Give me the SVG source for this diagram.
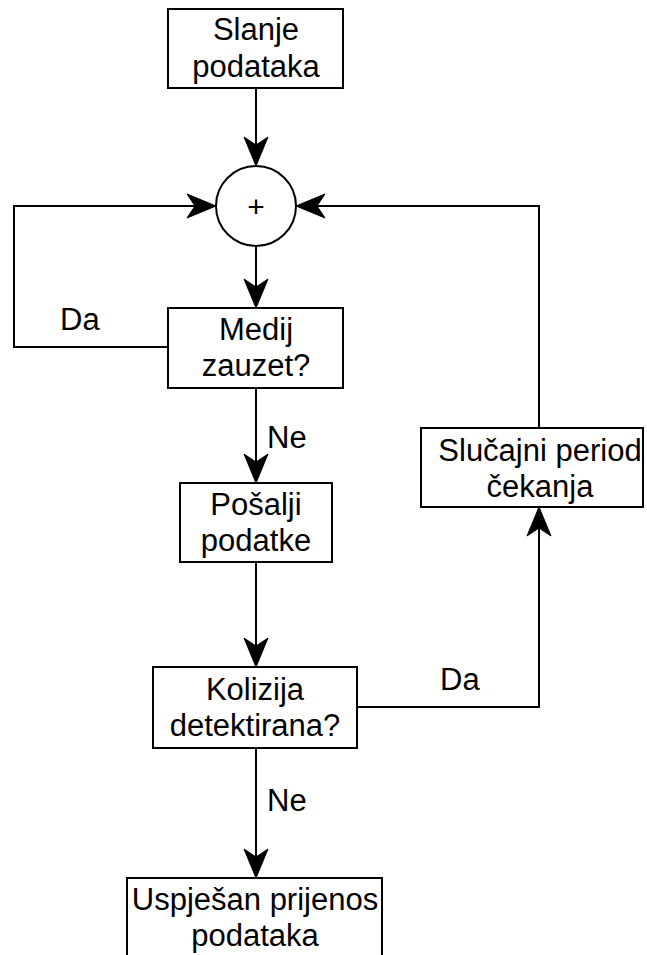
<svg xmlns="http://www.w3.org/2000/svg" width="647" height="955" viewBox="0 0 647 955">
<defs>
<style>
.box{fill:#fff;stroke:#000;stroke-width:2}
.t{font-family:"Liberation Sans",Arial,sans-serif;font-size:31px;fill:#000;text-anchor:middle}
.l{font-family:"Liberation Sans",Arial,sans-serif;font-size:31px;fill:#000}
.c{fill:none;stroke:#000;stroke-width:2;marker-end:url(#arr)}
</style>
<marker id="arr" markerUnits="userSpaceOnUse" markerWidth="32" markerHeight="28" viewBox="-1 -13 32 26" refX="8" refY="0" orient="auto">
<path d="M0,-12 L29,0 L0,12 L8,0 Z" fill="#000" stroke="#000" stroke-width="1" stroke-linejoin="miter"/>
</marker>
</defs>
<rect width="647" height="955" fill="#fff"/>
<g id="connectors">
<path class="c" d="M256,88 V145"/>
<path class="c" d="M256,246 V287"/>
<path class="c" d="M256,388 V462"/>
<path class="c" d="M256,562 V646"/>
<path class="c" d="M256,748 V857"/>
<path class="c" d="M168,347 H14 V206 H195"/>
<path class="c" d="M356,707 H539 V528"/>
<path class="c" d="M539,428 V206 H317"/>
<text class="l" x="60" y="330">Da</text>
<text class="l" x="267" y="448">Ne</text>
<text class="l" x="440" y="690">Da</text>
<text class="l" x="267" y="811">Ne</text>
</g>
<g id="slanje">
<rect class="box" x="168" y="9" width="175" height="79"/>
<text class="t" x="256" y="40">Slanje</text>
<text class="t" x="256" y="77">podataka</text>
</g>
<g id="plus">
<circle cx="256" cy="206" r="40" fill="#fff" stroke="#000" stroke-width="2"/>
<text x="256" y="217" style="font-family:'Liberation Sans',Arial,sans-serif;font-size:30px;text-anchor:middle;fill:#000">+</text>
</g>
<g id="medij">
<rect class="box" x="168" y="308" width="175" height="80"/>
<text class="t" x="256" y="340">Medij</text>
<text class="t" x="256" y="376">zauzet?</text>
</g>
<g id="posalji">
<rect class="box" x="180" y="483" width="152" height="79"/>
<text class="t" x="256" y="515">Pošalji</text>
<text class="t" x="256" y="551">podatke</text>
</g>
<g id="kolizija">
<rect class="box" x="153" y="667" width="204" height="81"/>
<text class="t" x="255" y="700">Kolizija</text>
<text class="t" x="255" y="736">detektirana?</text>
</g>
<g id="slucajni">
<rect class="box" x="421" y="428" width="222" height="79"/>
<text class="t" x="540" y="461">Slučajni period</text>
<text class="t" x="540" y="497">čekanja</text>
</g>
<g id="uspjesan">
<rect class="box" x="127" y="878" width="255" height="82"/>
<text class="t" x="255" y="910">Uspješan prijenos</text>
<text class="t" x="255" y="946">podataka</text>
</g>
</svg>
